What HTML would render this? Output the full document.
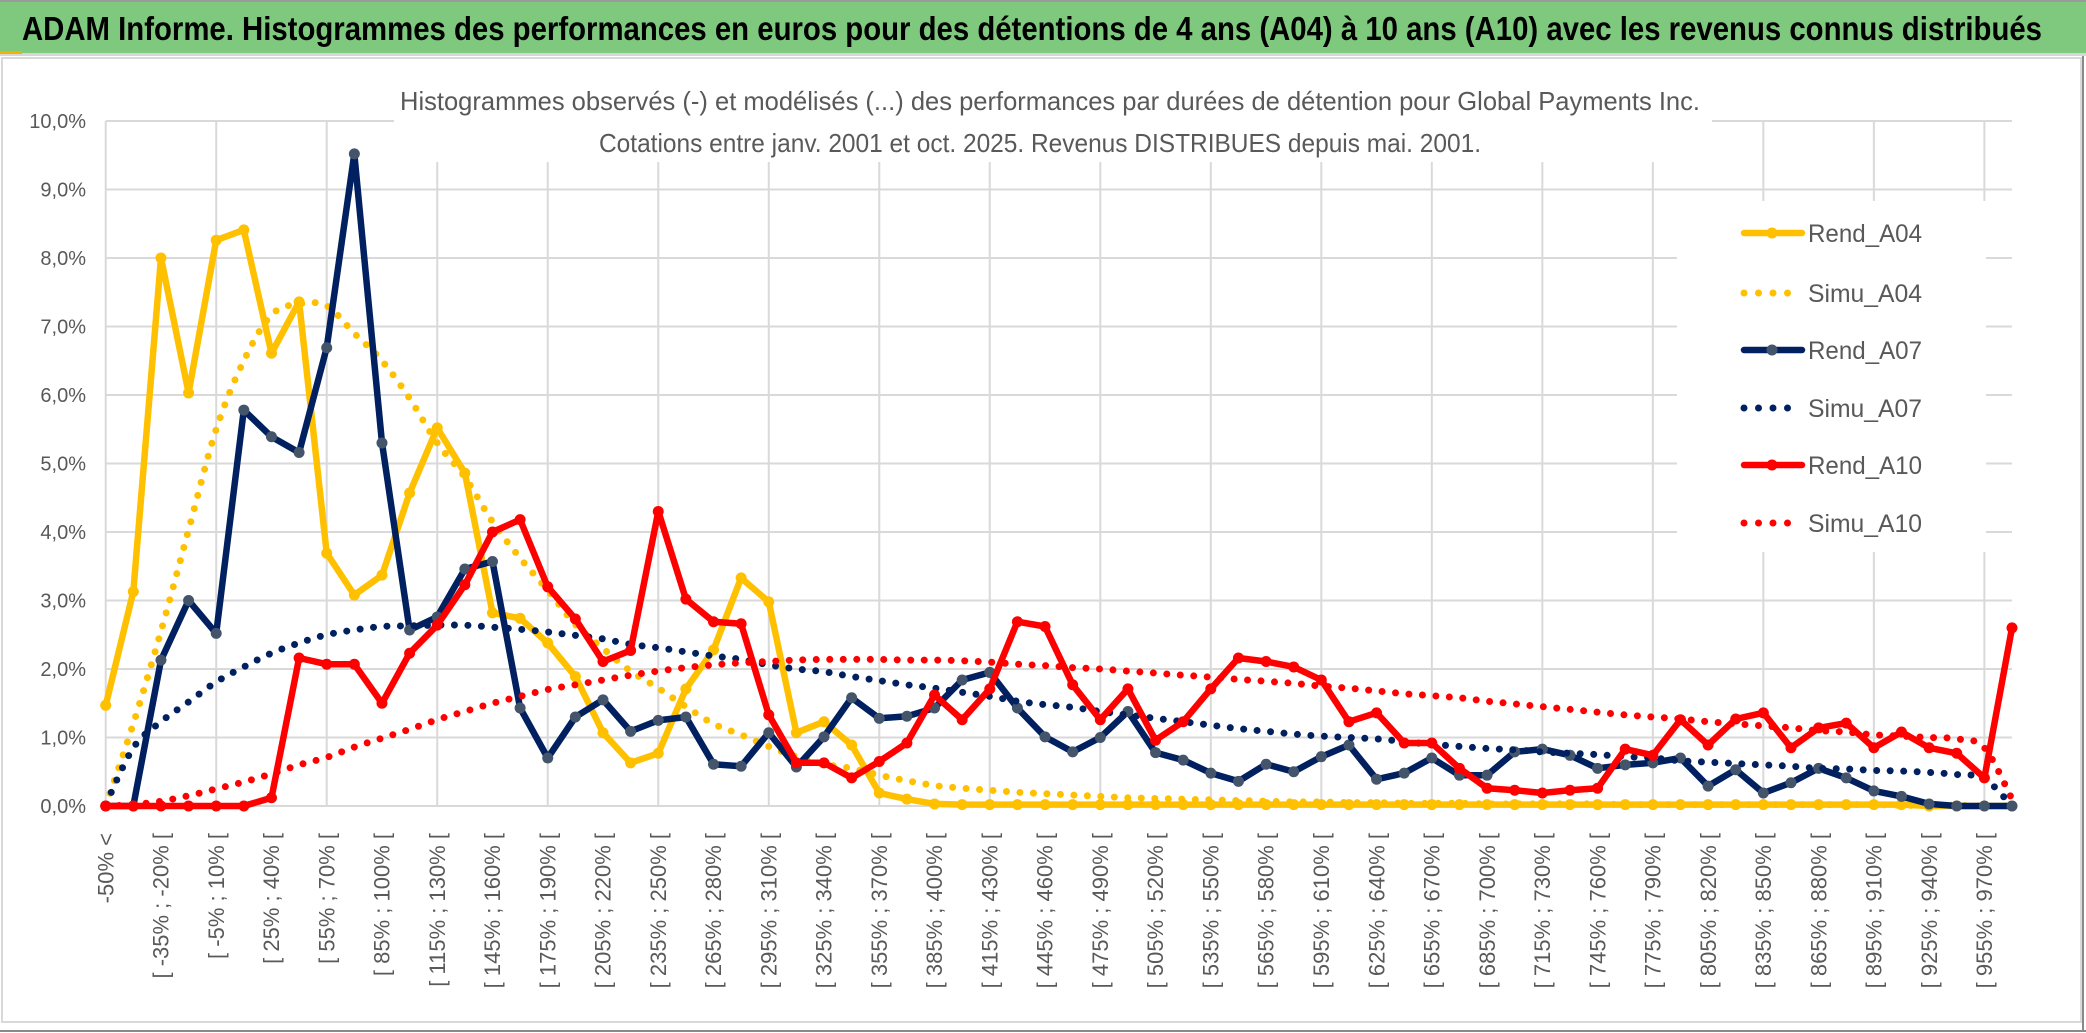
<!DOCTYPE html>
<html><head><meta charset="utf-8"><style>
html,body{margin:0;padding:0;background:#fff;}
svg{display:block;font-family:"Liberation Sans",sans-serif;}
</style></head><body>
<svg id="chart" width="2086" height="1033" viewBox="0 0 2086 1033" xmlns="http://www.w3.org/2000/svg">
<rect x="0" y="0" width="2086" height="1033" fill="#fff"/>
<rect x="0" y="2" width="2086" height="51" fill="#7fc97f"/>
<rect x="0" y="0" width="2086" height="2" fill="#9a9a9a"/>
<rect x="0" y="53" width="2086" height="3" fill="#d6d6d6"/>
<rect x="0" y="51" width="22" height="3" fill="#f0b400"/>
<text x="22" y="40" font-size="33" font-weight="bold" fill="#000" textLength="2020" lengthAdjust="spacingAndGlyphs">ADAM Informe. Histogrammes des performances en euros pour des détentions de 4 ans (A04) à 10 ans (A10) avec les revenus connus distribués</text>
<rect x="2" y="58" width="2079" height="964" fill="#fff" stroke="#d9d9d9" stroke-width="2"/>
<rect x="0" y="1030" width="2086" height="2" fill="#8a8a8a"/>
<rect x="2082" y="56" width="2" height="976" fill="#8a8a8a"/>
<g id="grid"></g>
<g id="yaxis"></g>
<g id="xaxis"></g>
<rect x="394" y="66" width="1318" height="96" fill="#fff"/>
<text x="1050" y="110" font-size="26" fill="#595959" text-anchor="middle" textLength="1300" lengthAdjust="spacingAndGlyphs">Histogrammes observés (-) et modélisés (...) des performances par durées de détention pour Global Payments Inc.</text>
<text x="1040" y="152" font-size="26" fill="#595959" text-anchor="middle" textLength="882" lengthAdjust="spacingAndGlyphs">Cotations entre janv. 2001 et oct. 2025. Revenus DISTRIBUES depuis mai. 2001.</text>
<g id="series"></g>
<rect x="1677" y="201" width="309" height="351" fill="#fff"/>
<g id="legend"></g>
</svg>
<script>
const categoryCount = 70;
const yTickLabels = ["0,0%","1,0%","2,0%","3,0%","4,0%","5,0%","6,0%","7,0%","8,0%","9,0%","10,0%"];
const xTickLabels = ["-50% <","[ -35% ; -20% [","[ -5% ; 10% [","[ 25% ; 40% [","[ 55% ; 70% [","[ 85% ; 100% [","[ 115% ; 130% [","[ 145% ; 160% [","[ 175% ; 190% [","[ 205% ; 220% [","[ 235% ; 250% [","[ 265% ; 280% [","[ 295% ; 310% [","[ 325% ; 340% [","[ 355% ; 370% [","[ 385% ; 400% [","[ 415% ; 430% [","[ 445% ; 460% [","[ 475% ; 490% [","[ 505% ; 520% [","[ 535% ; 550% [","[ 565% ; 580% [","[ 595% ; 610% [","[ 625% ; 640% [","[ 655% ; 670% [","[ 685% ; 700% [","[ 715% ; 730% [","[ 745% ; 760% [","[ 775% ; 790% [","[ 805% ; 820% [","[ 835% ; 850% [","[ 865% ; 880% [","[ 895% ; 910% [","[ 925% ; 940% [","[ 955% ; 970% ["];
const rendA04 = [1.47,3.13,8.0,6.03,8.26,8.41,6.61,7.36,3.69,3.08,3.37,4.57,5.52,4.86,2.82,2.74,2.38,1.89,1.07,0.63,0.77,1.71,2.28,3.33,2.98,1.07,1.23,0.89,0.19,0.1,0.03,0.02,0.02,0.02,0.02,0.02,0.02,0.02,0.02,0.02,0.02,0.02,0.02,0.02,0.02,0.02,0.02,0.02,0.02,0.02,0.02,0.02,0.02,0.02,0.02,0.02,0.02,0.02,0.02,0.02,0.02,0.02,0.02,0.02,0.02,0.02,0,0,0,0];
const simuA04 = [0.0,1.2,2.55,4.03,5.5,6.5,7.17,7.33,7.3,6.9,6.5,5.95,5.3,4.8,4.15,3.62,3.15,2.65,2.3,1.97,1.72,1.45,1.2,1.04,0.87,0.72,0.61,0.55,0.45,0.37,0.3,0.26,0.23,0.2,0.18,0.16,0.14,0.12,0.11,0.1,0.09,0.08,0.07,0.06,0.06,0.05,0.05,0.04,0.04,0.04,0.03,0.03,0.03,0.03,0.03,0.02,0.02,0.02,0.02,0.02,0.02,0.02,0.02,0.02,0.02,0.01,0.01,0.01,0.0,0.0];
const rendA07 = [0,0,2.13,3.0,2.52,5.78,5.39,5.16,6.69,9.52,5.3,2.57,2.76,3.46,3.57,1.43,0.7,1.3,1.55,1.09,1.25,1.3,0.61,0.58,1.07,0.57,1.01,1.58,1.28,1.31,1.43,1.84,1.95,1.43,1.01,0.79,1.0,1.38,0.78,0.67,0.48,0.36,0.61,0.5,0.72,0.89,0.39,0.48,0.7,0.45,0.45,0.79,0.83,0.74,0.55,0.6,0.63,0.7,0.29,0.53,0.19,0.34,0.55,0.41,0.22,0.14,0.03,0,0,0];
const simuA07 = [0.02,0.85,1.23,1.52,1.81,2.03,2.23,2.38,2.5,2.57,2.62,2.63,2.64,2.64,2.61,2.58,2.54,2.49,2.44,2.36,2.31,2.25,2.19,2.14,2.06,2.0,1.96,1.89,1.83,1.77,1.72,1.66,1.6,1.53,1.48,1.44,1.38,1.33,1.28,1.23,1.18,1.13,1.09,1.05,1.02,1.0,0.98,0.94,0.9,0.87,0.84,0.82,0.79,0.77,0.75,0.72,0.7,0.66,0.64,0.62,0.6,0.58,0.55,0.54,0.52,0.51,0.49,0.46,0.4,0.0];
const rendA10 = [0,0,0,0,0,0,0.12,2.16,2.07,2.07,1.5,2.23,2.64,3.23,4.0,4.18,3.2,2.73,2.11,2.27,4.30,3.02,2.69,2.66,1.33,0.63,0.63,0.41,0.65,0.92,1.62,1.26,1.71,2.69,2.62,1.77,1.26,1.71,0.96,1.23,1.71,2.16,2.11,2.03,1.84,1.23,1.36,0.92,0.92,0.55,0.26,0.23,0.19,0.23,0.26,0.83,0.74,1.26,0.89,1.27,1.36,0.85,1.14,1.21,0.85,1.08,0.85,0.77,0.41,2.6];
const simuA10 = [0.0,0.02,0.07,0.15,0.25,0.35,0.47,0.6,0.71,0.86,0.99,1.12,1.26,1.38,1.5,1.6,1.7,1.77,1.84,1.91,1.97,2.02,2.06,2.09,2.11,2.13,2.14,2.14,2.14,2.13,2.13,2.12,2.1,2.07,2.05,2.02,2.0,1.97,1.94,1.91,1.88,1.85,1.82,1.79,1.75,1.72,1.68,1.64,1.61,1.58,1.53,1.49,1.45,1.41,1.37,1.33,1.3,1.27,1.23,1.2,1.17,1.14,1.1,1.08,1.04,1.02,1.0,0.98,0.85,0.1];
const seriesNames = ["Rend_A04","Simu_A04","Rend_A07","Simu_A07","Rend_A10","Simu_A10"];

const NS = "http://www.w3.org/2000/svg";
const X0 = 105.7, X1 = 2012, YTOP = 121, YBOT = 806, YMAX = 10;
function xPos(i){ return X0 + (X1 - X0) * i / (categoryCount - 1); }
function yPos(v){ return YBOT - (YBOT - YTOP) * v / YMAX; }
function mk(tag, attrs, parent){
  const e = document.createElementNS(NS, tag);
  for (const k in attrs) e.setAttribute(k, attrs[k]);
  parent.appendChild(e);
  return e;
}
const grid = document.getElementById('grid');
const yaxis = document.getElementById('yaxis');
const xaxis = document.getElementById('xaxis');
const seriesG = document.getElementById('series');
const legend = document.getElementById('legend');

yTickLabels.forEach((lab, k) => {
  const y = yPos(k);
  const gl = mk('line', {x1: X0, x2: X1, y1: y, y2: y, stroke: '#d9d9d9', 'stroke-width': 2}, grid);
  
  
  const t = mk('text', {x: 86, y: y + 7, 'font-size': 20, fill: '#595959', 'text-anchor': 'end'}, yaxis);
  t.textContent = lab;
  
  
});
for (let i = 0; i < categoryCount; i += 4) {
  const x = xPos(i);
  const gl = mk('line', {x1: x, x2: x, y1: YTOP, y2: YBOT, stroke: '#d9d9d9', 'stroke-width': 2}, grid);
  
  
}
xTickLabels.forEach((lab, k) => {
  const x = xPos(k * 2);
  const t = mk('text', {x: x, y: 833, 'font-size': 22, fill: '#595959', 'text-anchor': 'end', dy: '0.35em', transform: 'rotate(-90 ' + x + ' 833)'}, xaxis);
  t.textContent = lab;
  
  
});

function straightPath(vals){
  return vals.map((v, i) => (i ? 'L' : 'M') + xPos(i).toFixed(1) + ',' + yPos(v).toFixed(1)).join(' ');
}
function smoothPath(vals){
  const p = vals.map((v, i) => [xPos(i), yPos(v)]);
  let d = 'M' + p[0][0].toFixed(1) + ',' + p[0][1].toFixed(1);
  for (let i = 0; i < p.length - 1; i++) {
    const a = p[i - 1] || p[i], b = p[i], c = p[i + 1], e = p[i + 2] || c;
    const c1 = [b[0] + (c[0] - a[0]) / 6, b[1] + (c[1] - a[1]) / 6];
    const c2 = [c[0] - (e[0] - b[0]) / 6, c[1] - (e[1] - b[1]) / 6];
    d += ' C' + c1[0].toFixed(1) + ',' + c1[1].toFixed(1) + ' ' + c2[0].toFixed(1) + ',' + c2[1].toFixed(1) + ' ' + c[0].toFixed(1) + ',' + c[1].toFixed(1);
  }
  return d;
}
function drawRend(vals, color, markerColor, name){
  const g = mk('g', {}, seriesG);
  
  
  const ln = mk('path', {d: straightPath(vals), fill: 'none', stroke: color, 'stroke-width': 6.5, 'stroke-linejoin': 'round', 'stroke-linecap': 'round'}, g);
  
  
  vals.forEach((v, i) => {
    const c = mk('circle', {cx: xPos(i), cy: yPos(v), r: 5.5, fill: markerColor}, g);
    
    
  });
}
function drawSimu(vals, color, name){
  const ln = mk('path', {d: smoothPath(vals), fill: 'none', stroke: color, 'stroke-width': 7, 'stroke-dasharray': '0 13.5', 'stroke-linecap': 'round'}, seriesG);
  
  
}
drawRend(rendA04, '#ffc000', '#ffc000', 'rend-a04-series');
drawSimu(simuA04, '#ffc000', 'simu-a04-series');
drawRend(rendA07, '#002060', '#44546a', 'rend-a07-series');
drawSimu(simuA07, '#002060', 'simu-a07-series');
drawRend(rendA10, '#ff0000', '#ff0000', 'rend-a10-series');
drawSimu(simuA10, '#ff0000', 'simu-a10-series');

const legendColors = ['#ffc000','#ffc000','#002060','#002060','#ff0000','#ff0000'];
const legendMarkers = ['#ffc000',null,'#44546a',null,'#ff0000',null];
const legendY = [233,293,350,408,465,523];
seriesNames.forEach((nm, k) => {
  const y = legendY[k];
  const g = mk('g', {}, legend);
  
  
  if (legendMarkers[k]) {
    mk('line', {x1: 1744, x2: 1802, y1: y, y2: y, stroke: legendColors[k], 'stroke-width': 6.5, 'stroke-linecap': 'round'}, g);
    mk('circle', {cx: 1772, cy: y, r: 5.5, fill: legendMarkers[k]}, g);
  } else {
    mk('line', {x1: 1744, x2: 1802, y1: y, y2: y, stroke: legendColors[k], 'stroke-width': 7, 'stroke-dasharray': '0 14.5', 'stroke-linecap': 'round'}, g);
  }
  const t = mk('text', {x: 1808, y: y + 9, 'font-size': 25, fill: '#595959', textLength: 114, lengthAdjust: 'spacingAndGlyphs'}, g);
  t.textContent = nm;
});
</script>
</body></html>
